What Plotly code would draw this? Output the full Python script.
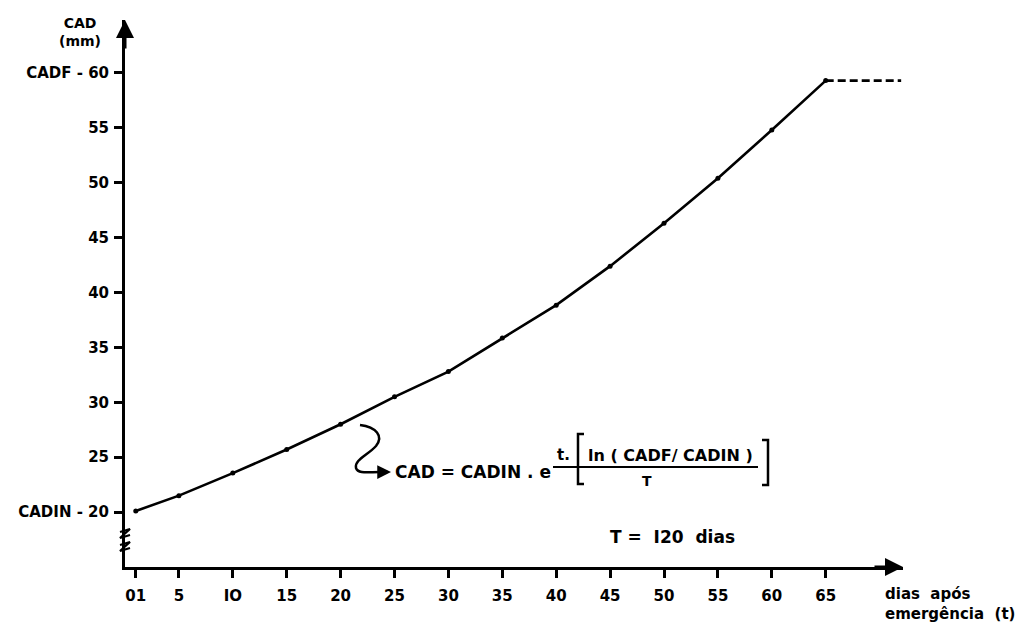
import plotly.graph_objects as go

# ---- data ----
days = [1, 5, 10, 15, 20, 25, 30, 35, 40, 45, 50, 55, 60, 65]
cad_mm = [20.1, 21.5, 23.55, 25.7, 28.0, 30.5, 32.8, 35.85, 38.85, 42.4, 46.3, 50.4, 54.8, 59.3]
plateau_days = [65, 72]
plateau_cad = [59.3, 59.3]

x_tickvals = [1, 5, 10, 15, 20, 25, 30, 35, 40, 45, 50, 55, 60, 65]
x_ticktext = ["01", "5", "IO", "15", "20", "25", "30", "35", "40", "45", "50", "55", "60", "65"]
y_tickvals = [20, 25, 30, 35, 40, 45, 50, 55, 60]
y_ticktext = ["CADIN - 20", "25", "30", "35", "40", "45", "50", "55", "CADF - 60"]

FONT = "DejaVu Sans"
W, H = 1030, 626
L, R, T, B = 125, 127, 20, 59
PW, PH = W - L - R, H - T - B


def px(xp):
    return (xp - L) / PW


def py(yp):
    return (H - B - yp) / PH


fig = go.Figure()
fig.add_trace(go.Scatter(
    x=days, y=cad_mm, mode="lines+markers",
    line=dict(color="black", width=2.6),
    marker=dict(color="black", size=5),
    hoverinfo="skip", showlegend=False))
fig.add_trace(go.Scatter(
    x=plateau_days, y=plateau_cad, mode="lines",
    line=dict(color="black", width=2.6, dash="8px,4px"),
    hoverinfo="skip", showlegend=False))

fig.update_layout(
    width=W, height=H,
    margin=dict(l=L, r=R, t=T, b=B),
    paper_bgcolor="white", plot_bgcolor="white",
    font=dict(family=FONT, color="black", size=15),
    xaxis=dict(range=[0, PW / 10.78], showgrid=False, zeroline=False,
               showline=True, linecolor="black", linewidth=3,
               ticks="outside", ticklen=8, tickwidth=2.5, tickcolor="black",
               tickvals=x_tickvals, ticktext=["<b>%s</b>" % t for t in x_ticktext],
               ticklabelstandoff=5, tickfont=dict(size=15, family=FONT)),
    yaxis=dict(range=[15, 15 + PH / 10.98], showgrid=False, zeroline=False,
               showline=True, linecolor="black", linewidth=3,
               ticks="outside", ticklen=8, tickwidth=2.5, tickcolor="black",
               tickvals=y_tickvals, ticktext=["<b>%s</b>" % t for t in y_ticktext],
               ticklabelstandoff=2, tickfont=dict(size=15, family=FONT)),
)


def label(xp, yp, text, size=15, xanchor="center", align="center"):
    return dict(xref="paper", yref="paper", x=px(xp), y=py(yp), text=text,
                showarrow=False, xanchor=xanchor, yanchor="middle", align=align,
                font=dict(size=size, family=FONT))


ann = []
# axis arrowheads
ann.append(dict(xref="paper", yref="paper", x=0, y=1.0, ax=0, ay=30, text="",
                showarrow=True, arrowhead=2, arrowsize=1.2, arrowwidth=3, arrowcolor="black"))
ann.append(dict(xref="paper", yref="paper", x=1.0, y=0, ax=-30, ay=0, text="",
                showarrow=True, arrowhead=2, arrowsize=1.2, arrowwidth=3, arrowcolor="black"))
# y-axis title
ann.append(label(80, 32, "<b>CAD<br>(mm)</b>", size=14))
# x-axis title
ann.append(label(883, 604, "<b>dias  após<br>emergência  (t)</b>", size=15, xanchor="left", align="left"))
# formula
ann.append(label(553, 472, "<b>CAD = CADIN . e</b>", size=17, xanchor="right"))
ann.append(label(555, 455, "<b>t.</b>", size=15, xanchor="left"))
ann.append(label(670, 456, "<b>ln ( CADF/ CADIN )</b>", size=16))
ann.append(label(647, 481, "<b>T</b>", size=14))
ann.append(label(672, 537, "<b>T =  I20  dias</b>", size=17))
# curly arrowhead
ann.append(dict(xref="paper", yref="paper", x=px(391), y=py(472), ax=-14, ay=0, text="",
                showarrow=True, arrowhead=2, arrowsize=1.1, arrowwidth=2.5, arrowcolor="black"))
fig.update_layout(annotations=ann)


def path(points):
    s = "M %f,%f" % (px(points[0][0]), py(points[0][1]))
    for p in points[1:]:
        s += " L %f,%f" % (px(p[0]), py(p[1]))
    return s


shapes = []
# fraction bar
shapes.append(dict(type="line", xref="paper", yref="paper", x0=px(553), x1=px(758), y0=py(467), y1=py(467),
                   line=dict(color="black", width=2)))
# brackets
shapes.append(dict(type="path", xref="paper", yref="paper",
                   path=path([(584, 434), (578, 434), (578, 484), (584, 484)]),
                   line=dict(color="black", width=2.5)))
shapes.append(dict(type="path", xref="paper", yref="paper",
                   path=path([(762, 440), (768, 440), (768, 485), (762, 485)]),
                   line=dict(color="black", width=2.5)))
# curly connector
c = "M %f,%f C %f,%f %f,%f %f,%f C %f,%f %f,%f %f,%f C %f,%f %f,%f %f,%f" % (
    px(360), py(425), px(376), py(427), px(384), py(436), px(376), py(446),
    px(368), py(455), px(354), py(460), px(356), py(468),
    px(358), py(474), px(368), py(472), px(380), py(472))
shapes.append(dict(type="path", xref="paper", yref="paper", path=c, line=dict(color="black", width=2.5)))
# axis break zigzag
shapes.append(dict(type="path", xref="paper", yref="paper",
                   path=path([(120, 532), (130, 529), (120, 538), (130, 535)]),
                   line=dict(color="black", width=2.2)))
shapes.append(dict(type="path", xref="paper", yref="paper",
                   path=path([(120, 545), (130, 542), (120, 551), (130, 548)]),
                   line=dict(color="black", width=2.2)))
fig.update_layout(shapes=shapes)

fig.write_html("out.html")
